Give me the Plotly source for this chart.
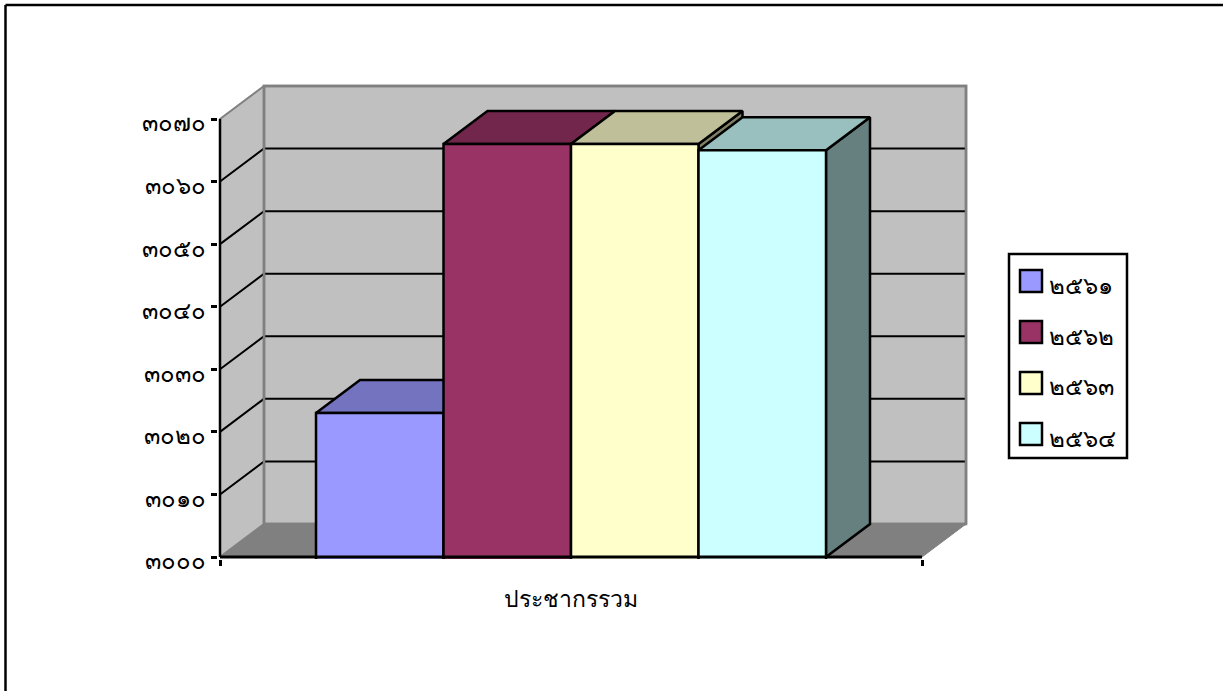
import plotly.graph_objects as go

WIDTH, HEIGHT = 1223, 691
CATEGORY = "ประชากรรวม"
SERIES_NAMES = ["๒๕๖๑", "๒๕๖๒", "๒๕๖๓", "๒๕๖๔"]
SERIES_VALUES = [3023, 3066, 3066, 3065]
FRONT_COLORS = ["#9999FF", "#993366", "#FFFFCC", "#CCFFFF"]
TOP_COLORS = ["#7373BF", "#73264C", "#BFBF99", "#99BFBF"]
SIDE_COLORS = ["#666680", "#661A33", "#808066", "#668080"]
Y_TICK_VALUES = [3000, 3010, 3020, 3030, 3040, 3050, 3060, 3070]
Y_TICK_LABELS = ["๓๐๐๐", "๓๐๑๐", "๓๐๒๐", "๓๐๓๐", "๓๐๔๐", "๓๐๕๐", "๓๐๖๐", "๓๐๗๐"]

# front plane of the chart in page pixels
L, R, T, B = 220, 922, 119, 557
DEPTH_PX_X, DEPTH_PX_Y = 44, 33
PAD = 2
X0, X1 = -0.5, 0.5
Y0, Y1 = 3000, 3070
BAR_GAP = 0.2735
UX = (R - L) / (X1 - X0)   # pixels per x unit
UY = (B - T) / (Y1 - Y0)   # pixels per y unit
DX = DEPTH_PX_X / UX
DY = DEPTH_PX_Y / UY
FONT = "Noto Sans"
WALL, FLOOR, EDGE = "#C0C0C0", "#808080", "#808080"
LW = 2.5

# the plot area also holds the oblique depth, so nothing gets clipped
PL, PR = L - PAD, R + DEPTH_PX_X + PAD
PT, PB = T - DEPTH_PX_Y - PAD, B + PAD


def px(x):
    return (x - PL) / (PR - PL)


def py(y):
    return (PB - y) / (PB - PT)


fig = go.Figure()


def poly(xs, ys, fill, line, lw, z):
    fig.add_trace(go.Scatter(
        x=xs, y=ys, mode="lines", fill="toself", fillcolor=fill,
        line=dict(color=line, width=lw),
        hoverinfo="skip", showlegend=False, zorder=z))


def path(xs, ys, color, lw, z):
    fig.add_trace(go.Scatter(
        x=xs, y=ys, mode="lines", line=dict(color=color, width=lw),
        hoverinfo="skip", showlegend=False, zorder=z))


# walls and floor
poly([X0, X0 + DX, X0 + DX, X0, X0], [Y0, Y0 + DY, Y1 + DY, Y1, Y0], WALL, EDGE, 2, 0)
poly([X0 + DX, X1 + DX, X1 + DX, X0 + DX, X0 + DX],
     [Y0 + DY, Y0 + DY, Y1 + DY, Y1 + DY, Y0 + DY], WALL, EDGE, 2.5, 0)
poly([X0, X1, X1 + DX, X0 + DX, X0], [Y0, Y0, Y0 + DY, Y0 + DY, Y0], FLOOR, EDGE, 1, 1)

# gridlines along left and back wall, wall edges stay on top
for v in Y_TICK_VALUES[1:-1]:
    path([X0, X0 + DX, X1 + DX], [v, v + DY, v + DY], "#000000", 2, 2)
path([X0 + DX, X0 + DX, X1 + DX, X1 + DX], [Y0 + DY, Y1 + DY, Y1 + DY, Y0 + DY], EDGE, 2.5, 2)
path([X0 + DX, X1 + DX], [Y0 + DY, Y0 + DY], EDGE, 2.5, 2)

# bars: front faces are true bars, top and side faces follow from the value
n = len(SERIES_VALUES)
bar_w = (1 - BAR_GAP) / n
for i, (name, val) in enumerate(zip(SERIES_NAMES, SERIES_VALUES)):
    z = 3 + i * 3
    xa = -(1 - BAR_GAP) / 2 + i * bar_w
    xb = xa + bar_w
    poly([xb, xb + DX, xb + DX, xb, xb], [Y0, Y0 + DY, val + DY, val, Y0],
         SIDE_COLORS[i], "#000000", LW, z)
    poly([xa, xb, xb + DX, xa + DX, xa], [val, val, val + DY, val + DY, val],
         TOP_COLORS[i], "#000000", LW, z + 1)
    fig.add_trace(go.Bar(
        x=[0], y=[val], name=name,
        marker=dict(color=FRONT_COLORS[i], line=dict(color="#000000", width=LW)),
        showlegend=False, zorder=z + 2))

# axis lines stop at the front plane
path([X0, X1], [Y0, Y0], "#000000", 3, 20)
path([X0, X0], [Y0, Y1], "#000000", 2.5, 20)

PAPER = dict(xref="paper", yref="paper")
BLACK2 = dict(color="#000000", width=2.5)
shapes = [dict(type="line", x0=px(5.5), x1=px(5.5), y0=py(691), y1=py(5), line=BLACK2, **PAPER),
          dict(type="line", x0=px(5.5), x1=px(WIDTH), y0=py(5), y1=py(5), line=BLACK2, **PAPER),
          dict(type="rect", x0=px(1009), x1=px(1127), y0=py(458), y1=py(254),
               fillcolor="#FFFFFF", line=BLACK2, **PAPER)]
annotations = []
for i, name in enumerate(SERIES_NAMES):
    top = 270 + 51 * i
    shapes.append(dict(type="rect", x0=px(1020), x1=px(1042), y0=py(top + 22), y1=py(top),
                       fillcolor=FRONT_COLORS[i], line=BLACK2, **PAPER))
    annotations.append(dict(x=px(1047), y=py(top + 14), text=name,
                            showarrow=False, xanchor="left", yanchor="middle",
                            font=dict(family=FONT, size=24, color="#000000"), **PAPER))

fig.update_layout(
    width=WIDTH, height=HEIGHT, autosize=False,
    margin=dict(l=PL, r=WIDTH - PR, t=PT, b=HEIGHT - PB, pad=0),
    paper_bgcolor="#FFFFFF", plot_bgcolor="rgba(0,0,0,0)",
    barmode="group", bargap=BAR_GAP, bargroupgap=0, showlegend=False,
    shapes=shapes, annotations=annotations,
    xaxis=dict(range=[X0 - PAD / UX, X1 + DX + PAD / UX], tickmode="array", tickvals=[0], ticktext=[CATEGORY],
               ticks="outside", ticklen=0, ticklabelstandoff=19,
               tickfont=dict(family=FONT, size=23, color="#000000"),
               showgrid=False, zeroline=False, showline=False,
               minor=dict(tickmode="array", tickvals=[X0, X1], ticks="outside", ticklen=6,
                          tickwidth=2.5, tickcolor="#000000", showgrid=False)),
    yaxis=dict(range=[Y0 - PAD / UY, Y1 + DY + PAD / UY], tickmode="array", tickvals=Y_TICK_VALUES,
               ticktext=Y_TICK_LABELS, ticklabelshift=4,
               ticks="outside", ticklen=6, tickwidth=2.5, tickcolor="#000000",
               tickfont=dict(family=FONT, size=24, color="#000000"),
               showgrid=False, zeroline=False, showline=False),
)
fig.write_html("out.html", config={"displayModeBar": False},
               post_script="document.body.style.margin='0';")
